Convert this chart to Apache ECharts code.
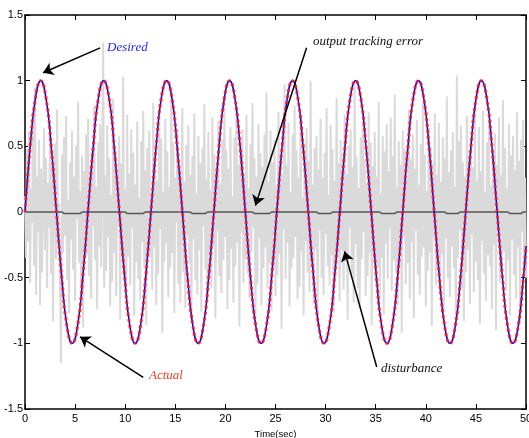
<!DOCTYPE html>
<html>
<head>
<meta charset="utf-8">
<script src="https://cdn.jsdelivr.net/npm/echarts@6/dist/echarts.min.js"></script>
<style>
  html, body { margin: 0; padding: 0; background: #fff; }
  #chart { width: 529px; height: 438px; }
</style>
</head>
<body>
<div id="chart"></div>
<script>
// time ticks (sec)
const xTicks = [0, 5, 10, 15, 20, 25, 30, 35, 40, 45, 50];

// desired / actual trajectory, sampled every 30 deg
const refT = [
  0, 0.52, 1.05, 1.57, 2.09, 2.62, 3.14, 3.67, 4.19, 4.71, 5.24, 5.76,
  6.28, 6.81, 7.33, 7.85, 8.38, 8.90, 9.42, 9.95, 10.47, 11.00, 11.52, 12.04,
  12.57, 13.09, 13.61, 14.14, 14.66, 15.18, 15.71, 16.23, 16.76, 17.28, 17.80, 18.33,
  18.85, 19.37, 19.90, 20.42, 20.94, 21.47, 21.99, 22.51, 23.04, 23.56, 24.09, 24.61,
  25.13, 25.66, 26.18, 26.70, 27.23, 27.75, 28.27, 28.80, 29.32, 29.85, 30.37, 30.89,
  31.42, 31.94, 32.46, 32.99, 33.51, 34.03, 34.56, 35.08, 35.60, 36.13, 36.65, 37.18,
  37.70, 38.22, 38.75, 39.27, 39.79, 40.32, 40.84, 41.36, 41.89, 42.41, 42.94, 43.46,
  43.98, 44.51, 45.03, 45.55, 46.08, 46.60, 47.12, 47.65, 48.17, 48.69, 49.22, 49.74,
  50
];
const desired = [
  0, 0.5, 0.87, 1, 0.87, 0.5, 0, -0.5, -0.87, -1, -0.87, -0.5,
  0, 0.5, 0.87, 1, 0.87, 0.5, 0, -0.5, -0.87, -1, -0.87, -0.5,
  0, 0.5, 0.87, 1, 0.87, 0.5, 0, -0.5, -0.87, -1, -0.87, -0.5,
  0, 0.5, 0.87, 1, 0.87, 0.5, 0, -0.5, -0.87, -1, -0.87, -0.5,
  0, 0.5, 0.87, 1, 0.87, 0.5, 0, -0.5, -0.87, -1, -0.87, -0.5,
  0, 0.5, 0.87, 1, 0.87, 0.5, 0, -0.5, -0.87, -1, -0.87, -0.5,
  0, 0.5, 0.87, 1, 0.87, 0.5, 0, -0.5, -0.87, -1, -0.87, -0.5,
  0, 0.5, 0.87, 1, 0.87, 0.5, 0, -0.5, -0.87, -1, -0.87, -0.5,
  -0.26
];
const actual = desired.slice();

// output tracking error (small dips near troughs)
const errT = [0, 3.7, 3.9, 5.5, 5.7, 10.0, 10.2, 11.8, 12.0, 16.5, 16.7, 18.0, 18.2,
  22.7, 22.9, 24.4, 24.6, 29.1, 29.3, 30.5, 30.7, 35.4, 35.6, 36.9, 37.1,
  41.9, 42.1, 43.2, 43.4, 48.2, 48.4, 49.5, 49.7, 50];
const errV = [0, 0, -0.012, -0.012, 0, 0, -0.012, -0.012, 0, 0, -0.012, -0.012, 0,
  0, -0.012, -0.012, 0, 0, -0.012, -0.012, 0, 0, -0.012, -0.012, 0,
  0, -0.012, -0.012, 0, 0, -0.012, -0.012, 0, 0];

// disturbance, one sample every 0.1 s
const noiseStep = 0.1;
const noise = [
  0.12,-0.35,0.48,-0.22,0.61,-0.54,0.18,-0.08,0.72,-0.41,0.95,-0.63,0.27,-0.15,0.55,-0.71,0.33,-0.46,0.08,0.64,
  -0.29,0.41,-0.58,0.22,-0.12,0.69,-0.47,0.35,-0.83,0.14,0.52,-0.36,0.78,-0.25,0.06,-0.62,-1.15,0.44,-0.31,0.57,
  -0.18,0.73,-0.52,0.09,-0.77,0.38,-0.21,0.62,-0.44,0.27,-0.68,0.51,-0.05,0.84,-0.39,0.16,-0.57,0.43,-0.88,0.31,
  -0.14,0.59,-0.33,0.71,-0.49,0.24,-0.66,0.46,-0.11,0.81,-0.37,0.19,-0.74,0.53,-0.26,0.67,-0.42,0.35,1.29,-0.58,
  0.28,-0.45,0.66,-0.19,0.41,-0.72,0.13,-0.53,0.86,-0.31,0.47,-0.64,0.22,-0.09,0.58,-0.82,0.37,-0.28,1.03,-0.48,
  0.17,-0.61,0.74,-0.34,0.29,-0.56,0.63,-0.12,0.45,-0.79,0.21,-0.38,0.69,-0.51,0.11,-0.67,0.54,-0.23,0.77,-0.43,
  0.32,-0.86,0.49,-0.16,0.62,-0.35,0.07,-0.59,0.83,-0.27,0.39,-0.71,0.24,-0.47,0.68,-0.13,0.56,-0.92,0.15,-0.38,
  0.71,-0.24,0.46,-0.65,0.19,-0.42,0.88,-0.31,0.53,-0.77,0.26,-0.08,0.64,-0.55,0.34,-0.69,0.12,0.79,-0.46,0.23,
  -0.73,0.51,-0.18,0.66,-0.39,0.28,-0.84,0.43,-0.21,0.75,-0.52,0.14,-0.63,0.58,-0.29,0.37,-0.76,0.49,-0.11,0.82,
  -0.44,0.25,-0.67,0.61,-0.33,0.17,-0.58,0.72,-0.26,0.44,-0.81,0.31,-0.14,0.69,-0.49,0.21,-0.62,0.54,-0.37,0.86,
  -0.19,0.47,-0.74,0.33,-0.52,0.65,-0.28,0.12,-0.69,0.57,-0.41,0.78,-0.23,0.36,-0.87,0.48,-0.15,0.63,-0.54,0.29,
  -0.36,0.74,-0.47,0.18,-0.66,0.52,-0.31,0.83,-0.12,0.41,-0.78,0.27,-0.55,0.67,-0.2,0.45,-0.71,0.34,-0.43,0.59,
  -0.27,0.91,-0.58,0.23,-0.39,0.62,-0.75,0.38,-0.16,0.55,-0.64,0.19,-0.48,0.76,-0.32,0.44,-0.89,0.28,-0.13,0.97,
  -0.51,0.36,-0.24,0.68,-0.72,0.15,-0.43,0.59,-0.35,0.81,-0.19,0.47,-0.66,0.26,-0.57,0.73,-0.3,0.11,-0.79,0.52,
  -0.22,0.64,-0.46,0.39,-0.61,1.0,-0.37,0.21,-0.7,0.49,-0.28,0.58,-0.84,0.32,-0.14,0.71,-0.5,0.26,-0.63,0.45,
  -0.17,0.79,-0.41,0.13,-0.56,0.66,-0.33,0.48,-0.77,0.24,-0.45,0.87,-0.21,0.37,-0.68,0.55,-0.29,0.16,-0.59,0.74,
  -0.38,0.29,-0.82,0.51,-0.12,0.63,-0.47,0.34,-0.69,0.96,-0.25,0.42,-0.58,0.18,-0.73,0.57,-0.36,0.69,-0.15,0.4,
  -0.64,0.22,-0.49,0.76,-0.31,0.53,-0.86,0.35,-0.2,0.61,-0.54,0.27,-0.42,0.84,-0.67,0.14,-0.35,0.58,-0.78,0.46,
  -0.24,0.67,-0.51,0.31,-0.13,0.72,-0.6,0.43,-0.37,0.89,-0.45,0.19,-0.71,0.54,-0.28,0.36,-0.92,0.62,-0.18,0.48,
  -0.55,0.25,-0.39,0.78,-0.66,0.4,-0.23,0.59,-0.81,0.33,-0.14,0.7,-0.48,0.21,-0.63,0.52,-0.34,0.83,-0.27,0.44,
  -0.72,0.16,-0.45,0.64,-0.31,0.5,-0.87,0.37,-0.19,0.75,-0.56,0.28,-0.4,0.68,-0.62,0.23,-0.32,0.57,-0.76,0.41,
  -0.2,0.88,-0.5,0.3,-0.65,0.47,-0.26,0.61,-0.43,0.19,-0.79,1.04,-0.35,0.54,-0.14,0.66,-0.58,0.38,-0.83,0.27,
  -0.46,0.73,-0.29,0.42,-0.7,0.56,-0.17,0.34,-0.61,0.81,-0.38,0.24,-0.52,0.65,-0.85,0.31,-0.22,0.77,-0.47,0.15,
  -0.68,0.53,-0.33,0.69,-0.41,0.2,-0.74,0.46,-0.25,0.6,-0.9,0.36,-0.13,0.72,-0.53,0.28,-0.44,0.85,-0.3,0.49,
  -0.6,0.18,-0.37,0.67,-0.79,0.43,-0.21,0.58,-0.48,0.32,-0.66,0.76,-0.27,0.39,-0.84,0.55,-0.15,0.7,-0.42,0.26,
  -0.5
];

// annotation arrows: [from, to] in data coords
const arrows = [
  [[7.5, 1.25], [1.8, 1.06]],
  [[11.8, -1.26], [5.5, -0.95]],
  [[28.1, 1.25], [23.0, 0.05]],
  [[35.1, -1.18], [31.9, -0.3]]
];

const zip = (xs, ys) => xs.map((x, i) => [x, ys[i]]);
const noiseData = noise.map((v, i) => [+(i * noiseStep).toFixed(1), v]);

const AXIS_FONT = 'Liberation Sans, Arial, sans-serif';
const NOTE_FONT = 'Liberation Serif, Times New Roman, serif';

const boxAxis = {
  axisLine: { show: true, onZero: false, lineStyle: { color: '#000', width: 1.5 } },
  axisTick: { show: true, inside: true, length: 5, lineStyle: { color: '#000', width: 1 } },
  splitLine: { show: false }
};

const chart = echarts.init(document.getElementById('chart'));
chart.setOption({
  animation: false,
  backgroundColor: '#fff',
  grid: { left: 25, right: 3, top: 15, bottom: 29, outerBoundsMode: 'none', containLabel: false },
  xAxis: [
    {
      type: 'value', min: 0, max: 50, interval: 5, position: 'bottom',
      ...boxAxis,
      axisLabel: { color: '#000', fontSize: 11, fontFamily: AXIS_FONT, margin: 4 },
      name: 'Time(sec)', nameLocation: 'middle', nameGap: 18,
      nameTextStyle: { color: '#000', fontSize: 9.5, fontFamily: AXIS_FONT }
    },
    {
      type: 'value', min: 0, max: 50, interval: 5, position: 'top',
      ...boxAxis, axisLabel: { show: false }
    }
  ],
  yAxis: [
    {
      type: 'value', min: -1.5, max: 1.5, interval: 0.5, position: 'left',
      ...boxAxis,
      axisLabel: { color: '#000', fontSize: 11, fontFamily: AXIS_FONT, margin: 2 }
    },
    {
      type: 'value', min: -1.5, max: 1.5, interval: 0.5, position: 'right',
      ...boxAxis, axisLabel: { show: false }
    }
  ],
  series: [
    {
      name: 'disturbance', type: 'line', data: noiseData, showSymbol: false,
      lineStyle: { color: '#dadada', width: 2 }, z: 1
    },
    {
      name: 'output tracking error', type: 'line', data: zip(errT, errV), showSymbol: false,
      lineStyle: { color: '#555', width: 1.5 }, z: 2,
      markLine: {
        silent: true, symbol: ['none', 'arrow'], symbolSize: 10,
        label: { show: false },
        lineStyle: { color: '#000', width: 1.5, type: 'solid' },
        data: arrows.map(a => [{ coord: a[0] }, { coord: a[1] }])
      }
    },
    {
      name: 'Desired', type: 'line', data: zip(refT, desired), smooth: true, showSymbol: false,
      lineStyle: { color: '#0000ff', width: 1.5 }, z: 3
    },
    {
      name: 'Actual', type: 'line', data: zip(refT, actual), smooth: true, showSymbol: false,
      lineStyle: { color: '#ff1a1a', width: 3, type: [3, 3], opacity: 0.85 }, z: 4
    }
  ],
  graphic: [
    { type: 'text', left: 107, top: 41, z: 10,
      style: { text: 'Desired', fill: '#1f1fff', font: 'italic 13px ' + NOTE_FONT } },
    { type: 'text', left: 149, top: 369, z: 10,
      style: { text: 'Actual', fill: '#f0401e', font: 'italic 13px ' + NOTE_FONT } },
    { type: 'text', left: 313, top: 35, z: 10,
      style: { text: 'output tracking error', fill: '#111', font: 'italic 13px ' + NOTE_FONT } },
    { type: 'text', left: 381, top: 362, z: 10,
      style: { text: 'disturbance', fill: '#111', font: 'italic 13px ' + NOTE_FONT } }
  ]
});
</script>
</body>
</html>
